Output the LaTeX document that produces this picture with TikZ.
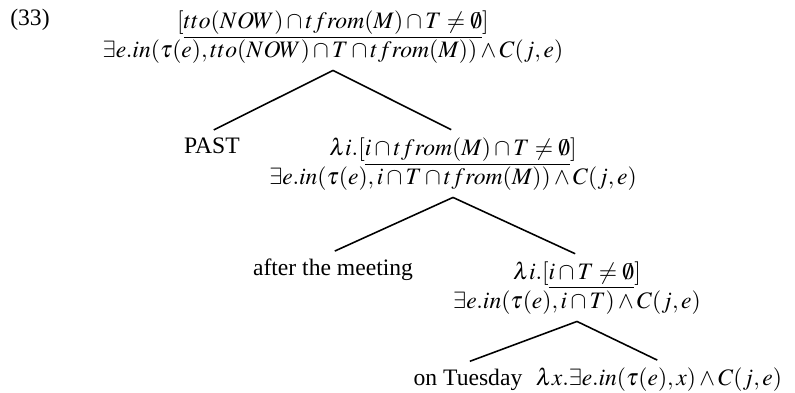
\documentclass[tikz,border=0pt]{standalone}
\usepackage{mathptmx}
\usepackage[no-math]{fontspec}
\setmainfont{Liberation Serif}
\usetikzlibrary{positioning}
\tikzset{
    sem/.style={
        align=center,
        inner xsep=2pt,
        inner ysep=3.5pt,
        font=\fontsize{12}{14.6}\selectfont
    },
    branch/.style={
        line width=0.8pt,
        shorten >=1pt
    }
}

\begin{document}
\begin{tikzpicture}[x=0.5085pt,y=-0.5085pt]
                \useasboundingbox (0,0) rectangle (795,392);
                \node[sem] (num) at (30,20) {(33)};
                \node[sem] (top)  at (333,37)  {$[\underline{tto(NOW)\cap tfrom(M)\cap T\neq\emptyset}]$\\$\exists e.in(\tau(e),tto(NOW)\cap T\cap tfrom(M))\wedge C(j,e)$};
                \node[sem] (past) at (212,146) {PAST};
                \node[sem] (vp1)  at (453,164) {$\lambda i.[\underline{i\cap tfrom(M)\cap T\neq\emptyset}]$\\$\exists e.in(\tau(e),i\cap T\cap tfrom(M))\wedge C(j,e)$};
                \node[sem] (after) at (333,270) {after the meeting};
                \node[sem] (vp2)  at (577,288) {$\lambda i.[\underline{i\cap T\neq\emptyset}]$\\$\exists e.in(\tau(e),i\cap T)\wedge C(j,e)$};
                \node[sem] (tues) at (468,380) {on Tuesday};
                \node[sem] (vp3)  at (659,380) {$\lambda x.\exists e.in(\tau(e),x)\wedge C(j,e)$};

                \draw[branch] (top.south)  -- (past.north);
                \draw[branch] (top.south)  -- (vp1.north);
                \draw[branch] (vp1.south)  -- (after.north);
                \draw[branch] (vp1.south)  -- (vp2.north);
                \draw[branch] (vp2.south)  -- (tues.north);
                \draw[branch] (vp2.south)  -- (vp3.north);
            \end{tikzpicture}
\end{document}
